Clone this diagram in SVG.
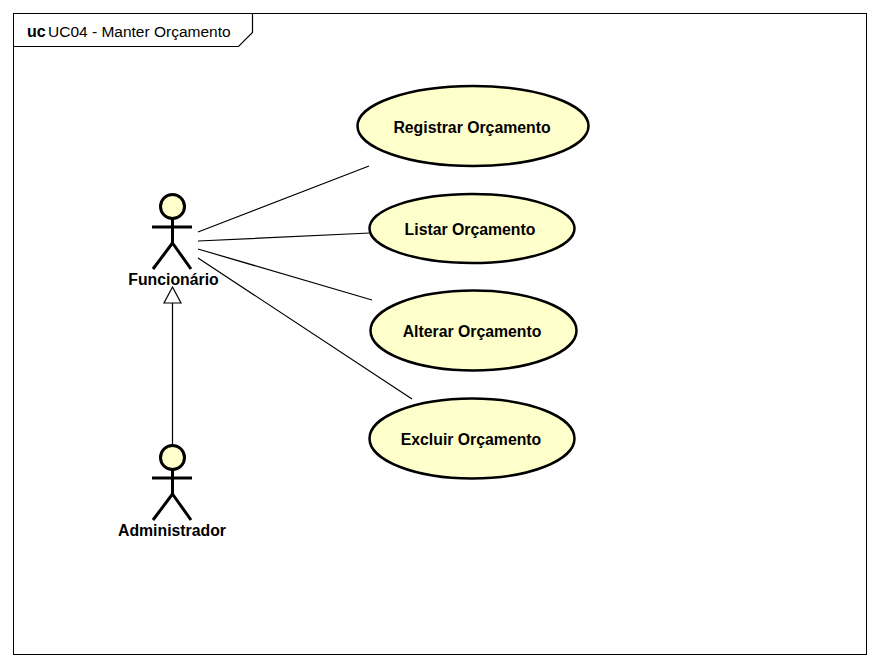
<svg xmlns="http://www.w3.org/2000/svg" width="880" height="666" viewBox="0 0 880 666">
<style>
text{font-family:"Liberation Sans",Arial,sans-serif;fill:#000}
.b{font-weight:bold;font-size:15.800px;text-anchor:middle}
.l{stroke:#000;stroke-width:1.2;fill:none}
.u{fill:#ffffcc;stroke:#000;stroke-width:2.500}
.c{fill:#ffffcc;stroke:#000;stroke-width:3}
.a{stroke:#000;stroke-width:3;fill:none}
</style>
<rect width="880" height="666" fill="#fff"/>
<g id="frame">
<rect x="13.500" y="13.500" width="853" height="641" fill="#fff" stroke="#000"/>
<path class="l" d="M13.500 46.500H238.500L252.500 32.500V13.500"/>
<text x="27" y="37" font-size="16" font-weight="bold">uc</text>
<text x="48" y="37" font-size="15.500">UC04 - Manter Orçamento</text>
</g>
<g id="connectors">
<path class="l" d="M198 232L369 166M198 241L370 233M198 249L372 300M198 258L412 399M172.500 445V303"/>
<path d="M172.500 287L164 303H181Z" fill="#fff" stroke="#000" stroke-width="1.200"/>
</g>
<g id="uc1"><ellipse class="u" cx="473" cy="126" rx="115.500" ry="40"/><text class="b" x="472" y="133">Registrar Orçamento</text></g>
<g id="uc2"><ellipse class="u" cx="472" cy="228.500" rx="102.500" ry="34.500"/><text class="b" x="470" y="235">Listar Orçamento</text></g>
<g id="uc3"><ellipse class="u" cx="473.500" cy="330.500" rx="103" ry="40"/><text class="b" x="472" y="337">Alterar Orçamento</text></g>
<g id="uc4"><ellipse class="u" cx="472" cy="438.500" rx="102.500" ry="40"/><text class="b" x="471" y="445">Excluir Orçamento</text></g>
<g id="funcionario"><circle class="c" cx="172.500" cy="206.500" r="12"/><path class="a" d="M172.500 219V243M152 227H192M172.500 243L153 269M172.500 243L191 269"/><text class="b" x="173.500" y="285">Funcionário</text></g>
<g id="administrador"><circle class="c" cx="172.500" cy="457.500" r="12"/><path class="a" d="M172.500 470V494M152 478H192M172.500 494L153 520M172.500 494L191 520"/><text class="b" x="172" y="536">Administrador</text></g>
</svg>
